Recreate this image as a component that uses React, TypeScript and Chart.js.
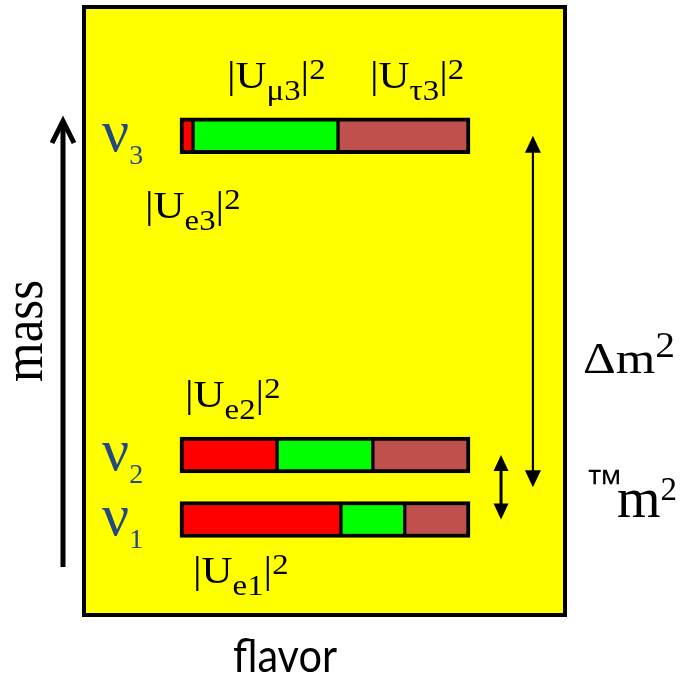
import React, { useEffect, useRef } from "react";
import { Chart, registerables } from "chart.js";

Chart.register(...registerables);

// ---- data ----
const neutrinoSubs = ["1", "2", "3"];
const massLevels = [0, 1, 5.95]; // relative mass² levels of ν1, ν2, ν3
const ueSq = [0.555, 0.335, 0.045]; // |Ue_i|²
const umuSq = [0.22, 0.33, 0.5]; // |Uμ_i|²
const utauSq = [0.225, 0.335, 0.455]; // |Uτ_i|²
const flavorNames = ["e", "μ", "τ"];
const flavorColors = ["#ff0000", "#00ff00", "#c0504d"];
const bigSplitLabel = "Δm";
const smallSplitPrefix = "™";
const smallSplitLabel = "m";
const xTitle = "flavor";
const yTitle = "mass";

const SERIF = '"Liberation Serif", "Times New Roman", "DejaVu Serif", serif';
const SANS = 'Lato, "Open Sans", sans-serif';
const NU_COLOR = "#24497f";
const STRETCH = 1.13;

type Part = { t: string; size: number; dy?: number; family?: string };

function drawRich(ctx: CanvasRenderingContext2D, x: number, y: number, parts: Part[], color: string, sx = STRETCH) {
  ctx.save();
  ctx.translate(x, y);
  ctx.scale(sx, 1);
  ctx.fillStyle = color;
  ctx.textBaseline = "alphabetic";
  ctx.textAlign = "left";
  let cx = 0;
  for (const p of parts) {
    ctx.font = `${p.size}px ${p.family ?? SERIF}`;
    ctx.fillText(p.t, cx, p.dy ?? 0);
    cx += ctx.measureText(p.t).width;
  }
  ctx.restore();
}

function uLabel(sub: string): Part[] {
  return [
    { t: "|U", size: 38 },
    { t: sub, size: 29, dy: 12 },
    { t: "|", size: 38 },
    { t: "2", size: 29, dy: -9 },
  ];
}

function doubleArrow(ctx: CanvasRenderingContext2D, x: number, y1: number, y2: number, lw: number, hw: number, hl: number) {
  ctx.save();
  ctx.strokeStyle = "#000";
  ctx.fillStyle = "#000";
  ctx.lineWidth = lw;
  ctx.beginPath();
  ctx.moveTo(x, y1 + hl - 1);
  ctx.lineTo(x, y2 - hl + 1);
  ctx.stroke();
  ctx.beginPath();
  ctx.moveTo(x, y1);
  ctx.lineTo(x - hw / 2, y1 + hl);
  ctx.lineTo(x + hw / 2, y1 + hl);
  ctx.closePath();
  ctx.fill();
  ctx.beginPath();
  ctx.moveTo(x, y2);
  ctx.lineTo(x - hw / 2, y2 - hl);
  ctx.lineTo(x + hw / 2, y2 - hl);
  ctx.closePath();
  ctx.fill();
  ctx.restore();
}

const diagramPlugin = {
  id: "diagram",
  beforeDatasetsDraw(chart: any) {
    const { ctx, chartArea: a } = chart;
    ctx.save();
    ctx.fillStyle = "#ffff00";
    ctx.fillRect(a.left, a.top, a.right - a.left, a.bottom - a.top);
    ctx.restore();
  },
  afterDraw(chart: any) {
    const { ctx, chartArea: a } = chart;
    const xs = chart.scales.x;
    const ys = chart.scales.y;
    ctx.save();
    ctx.strokeStyle = "#000";
    ctx.lineWidth = 4;
    ctx.strokeRect(a.left, a.top, a.right - a.left, a.bottom - a.top);
    ctx.restore();

    // neutrino labels
    const nuX = 102;
    massLevels.forEach((m, i) => {
      const yc = ys.getPixelForValue(m);
      drawRich(
        ctx,
        nuX,
        yc + 15,
        [
          { t: "ν", size: 60 },
          { t: neutrinoSubs[i], size: 28, dy: 13 },
        ],
        NU_COLOR,
        1.0
      );
    });

    // mixing labels
    drawRich(ctx, 227, 88, uLabel(flavorNames[1] + "3"), "#000");
    drawRich(ctx, 370, 88, uLabel(flavorNames[2] + "3"), "#000");
    drawRich(ctx, 145, 218, uLabel(flavorNames[0] + "3"), "#000");
    drawRich(ctx, 185, 407, uLabel(flavorNames[0] + "2"), "#000");
    drawRich(ctx, 193, 583, uLabel(flavorNames[0] + "1"), "#000");

    // splitting arrows
    const y1 = ys.getPixelForValue(massLevels[0]);
    const y2 = ys.getPixelForValue(massLevels[1]);
    const y3 = ys.getPixelForValue(massLevels[2]);
    const yMid = ys.getPixelForValue((massLevels[0] + massLevels[1]) / 2);
    doubleArrow(ctx, xs.getPixelForValue(1.217), y3, yMid, 2.2, 16, 17);
    doubleArrow(ctx, xs.getPixelForValue(1.107), y2, y1, 3, 15, 16);

    drawRich(ctx, 583, 373, [{ t: bigSplitLabel, size: 45 }, { t: "2", size: 35, dy: -16 }], "#000");
    drawRich(ctx, 585, 496, [{ t: smallSplitPrefix, size: 38, family: '"Liberation Sans", Arial, sans-serif' }], "#000", 1.0);
    drawRich(ctx, 617, 517, [{ t: smallSplitLabel, size: 56 }, { t: "2", size: 33, dy: -17 }], "#000", 1.0);

    // mass arrow
    ctx.save();
    ctx.strokeStyle = "#000";
    ctx.lineWidth = 5;
    ctx.lineJoin = "miter";
    ctx.beginPath();
    ctx.moveTo(63, 567);
    ctx.lineTo(63, 122);
    ctx.stroke();
    ctx.beginPath();
    ctx.moveTo(52, 143);
    ctx.lineTo(63, 121);
    ctx.lineTo(74, 143);
    ctx.stroke();
    ctx.restore();

    // mass title (rotated)
    ctx.save();
    ctx.translate(42, 331);
    ctx.rotate(-Math.PI / 2);
    ctx.scale(1, STRETCH);
    ctx.font = `51px ${SERIF}`;
    ctx.fillStyle = "#000";
    ctx.textAlign = "center";
    ctx.textBaseline = "alphabetic";
    ctx.fillText(yTitle, 0, 0);
    ctx.restore();

    // flavor title
    ctx.save();
    ctx.font = `46px ${SANS}`;
    const w = ctx.measureText(xTitle).width;
    const sx = 104 / w;
    ctx.translate(233, 672);
    ctx.scale(sx, 1);
    ctx.fillStyle = "#000";
    ctx.textBaseline = "alphabetic";
    ctx.fillText(xTitle, 0, 0);
    ctx.restore();
  },
};

export default function App() {
  const ref = useRef<HTMLCanvasElement | null>(null);
  useEffect(() => {
    if (!ref.current) return;
    const fracs = [ueSq, umuSq, utauSq];
    const datasets = fracs.map((arr, f) => ({
      label: flavorNames[f],
      data: massLevels.map((m, i) => {
        let start = 0;
        for (let k = 0; k < f; k++) start += fracs[k][i];
        return { y: m, x: [start, start + arr[i]] };
      }),
      backgroundColor: flavorColors[f],
      borderColor: "#000",
      borderWidth: {
        top: 4,
        bottom: 4,
        left: f === 0 ? 4 : 2,
        right: f === 2 ? 4 : 2,
      },
      borderSkipped: false,
      barThickness: 36,
      grouped: false,
    }));
    const chart = new Chart(ref.current, {
      type: "bar",
      data: { datasets: datasets as any },
      options: {
        indexAxis: "y",
        animation: false,
        responsive: false,
        layout: { padding: { left: 84, right: 115, top: 7, bottom: 62 } },
        scales: {
          x: { type: "linear", min: -0.331, max: 1.3276, display: false, offset: false },
          y: { type: "linear", min: -1.4806, max: 7.9457, display: false, offset: false },
        },
        plugins: { legend: { display: false }, tooltip: { enabled: false } },
      },
      plugins: [diagramPlugin],
    });
    return () => chart.destroy();
  }, []);
  return (
    <div style={{ position: "absolute", left: 0, top: 0, width: 680, height: 677, background: "#fff" }}>
      <canvas ref={ref} width={680} height={677} style={{ display: "block" }} />
    </div>
  );
}
